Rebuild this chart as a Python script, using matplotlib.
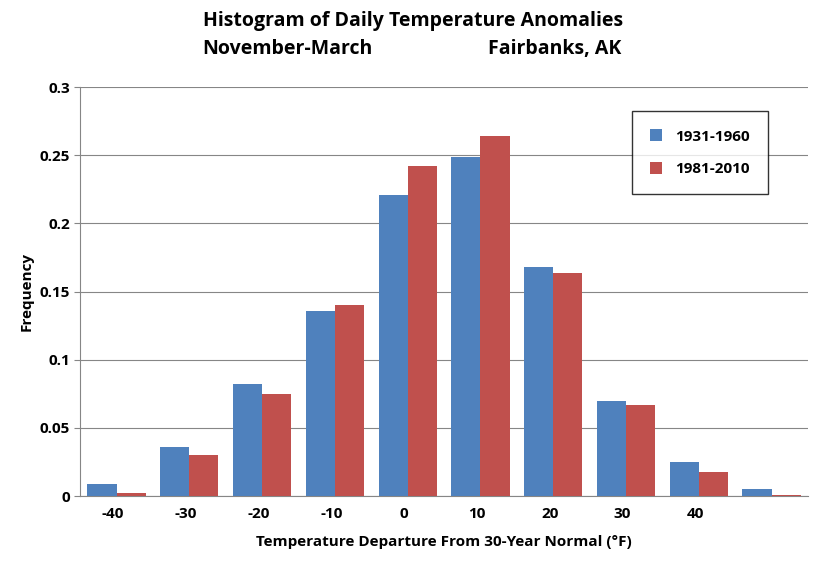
import numpy as np
import matplotlib.pyplot as plt

plt.rcParams['font.family'] = 'Open Sans'
plt.rcParams['font.weight'] = 'bold'

tick_labels = ['-40', '-30', '-20', '-10', '0', '10', '20', '30', '40', '']
freq_1931 = [0.009, 0.036, 0.082, 0.136, 0.221, 0.249, 0.168, 0.070, 0.025, 0.005]
freq_1981 = [0.002, 0.030, 0.075, 0.140, 0.242, 0.264, 0.164, 0.067, 0.018, 0.001]

x = np.arange(len(freq_1931))
w = 0.4

fig = plt.figure(figsize=(8.27, 5.69), dpi=100)
ax = fig.add_axes([0.097, 0.128, 0.88, 0.719])

ax.bar(x - w/2, freq_1931, w, color='#4F81BD', label='1931-1960', zorder=3)
ax.bar(x + w/2, freq_1981, w, color='#C0504D', label='1981-2010', zorder=3)

ax.set_xlim(-0.5, 9.5)
ax.set_ylim(0, 0.3)
ax.set_yticks([0, 0.05, 0.1, 0.15, 0.2, 0.25, 0.3])
ax.set_yticklabels(['0', '0.05', '0.1', '0.15', '0.2', '0.25', '0.3'], fontsize=11)
ax.set_xticks(x - 0.05)
ax.set_xticklabels(tick_labels, fontsize=11)
ax.tick_params(axis='x', length=0, pad=8)
ax.tick_params(axis='y', length=4, color='#868686')
ax.grid(axis='y', color='#868686', linewidth=0.8, zorder=0)
for s in ['top', 'right']:
    ax.spines[s].set_visible(False)
for s in ['left', 'bottom']:
    ax.spines[s].set_color('#868686')

ax.set_xlabel('Temperature Departure From 30-Year Normal (°F)', fontsize=11, fontweight='bold', labelpad=10)
ax.set_ylabel('Frequency', fontsize=11, fontweight='bold')

fig.text(0.5, 0.955, 'Histogram of Daily Temperature Anomalies', ha='center', fontsize=14, fontweight='bold')
fig.text(0.245, 0.905, 'November-March', ha='left', fontsize=14, fontweight='bold')
fig.text(0.59, 0.905, 'Fairbanks, AK', ha='left', fontsize=14, fontweight='bold')

leg = ax.legend(loc='upper right', bbox_to_anchor=(0.955, 0.96), fontsize=11, frameon=True,
                fancybox=False, edgecolor='black', borderpad=1.2, labelspacing=1.2,
                handlelength=0.8, handleheight=0.8)
leg.get_frame().set_linewidth(1.0)

fig.savefig('out.png', dpi=100)
